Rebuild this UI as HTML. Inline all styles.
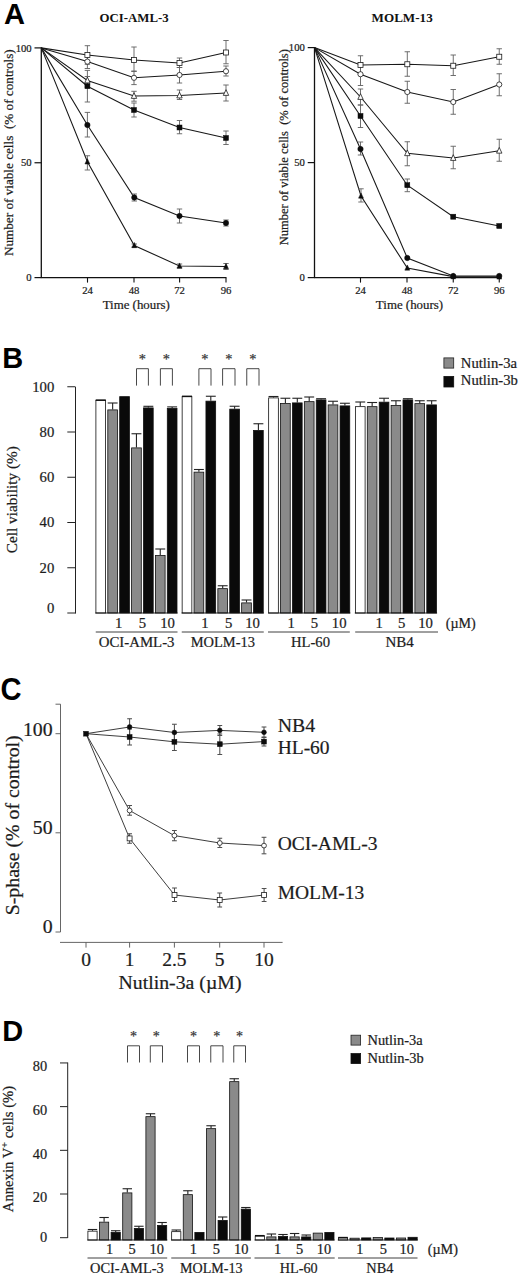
<!DOCTYPE html>
<html><head><meta charset="utf-8"><title>Figure</title>
<style>html,body{margin:0;padding:0;background:#fff;}svg{display:block;}</style>
</head><body>
<svg width="520" height="1277" viewBox="0 0 520 1277">
<rect x="0" y="0" width="520" height="1277" fill="#ffffff"/>
<text transform="translate(4.00 23.80) scale(0.96 1)" x="0" y="0" font-size="30.3" font-family="'Liberation Sans', sans-serif" font-weight="bold" fill="#000">A</text>
<text transform="translate(2.30 367.60) scale(0.96 1)" x="0" y="0" font-size="30.2" font-family="'Liberation Sans', sans-serif" font-weight="bold" fill="#000">B</text>
<text transform="translate(0.60 700.30) scale(0.93 1)" x="0" y="0" font-size="31.3" font-family="'Liberation Sans', sans-serif" font-weight="bold" fill="#000">C</text>
<text transform="translate(2.30 1041.10) scale(0.96 1)" x="0" y="0" font-size="30.2" font-family="'Liberation Sans', sans-serif" font-weight="bold" fill="#000">D</text>
<line x1="41.30" y1="47.40" x2="41.30" y2="277.60" stroke="#111" stroke-width="1.3" />
<line x1="40.70" y1="277.60" x2="226.40" y2="277.60" stroke="#111" stroke-width="1.3" />
<line x1="34.50" y1="47.90" x2="41.30" y2="47.90" stroke="#111" stroke-width="1.2" />
<text x="31.70" y="51.50" font-size="10.7" text-anchor="end" font-family="'Liberation Serif', serif" font-weight="normal" fill="#1c1c1c" stroke="#1c1c1c" stroke-width="0.22">100</text>
<line x1="34.50" y1="162.75" x2="41.30" y2="162.75" stroke="#111" stroke-width="1.2" />
<text x="31.70" y="166.35" font-size="10.7" text-anchor="end" font-family="'Liberation Serif', serif" font-weight="normal" fill="#1c1c1c" stroke="#1c1c1c" stroke-width="0.22">50</text>
<line x1="34.50" y1="277.60" x2="41.30" y2="277.60" stroke="#111" stroke-width="1.2" />
<text x="31.70" y="281.20" font-size="10.7" text-anchor="end" font-family="'Liberation Serif', serif" font-weight="normal" fill="#1c1c1c" stroke="#1c1c1c" stroke-width="0.22">0</text>
<line x1="87.50" y1="277.60" x2="87.50" y2="282.60" stroke="#111" stroke-width="1.1" />
<text x="87.50" y="293.50" font-size="10.7" text-anchor="middle" font-family="'Liberation Serif', serif" font-weight="normal" fill="#1c1c1c" stroke="#1c1c1c" stroke-width="0.22">24</text>
<line x1="134.00" y1="277.60" x2="134.00" y2="282.60" stroke="#111" stroke-width="1.1" />
<text x="134.00" y="293.50" font-size="10.7" text-anchor="middle" font-family="'Liberation Serif', serif" font-weight="normal" fill="#1c1c1c" stroke="#1c1c1c" stroke-width="0.22">48</text>
<line x1="179.60" y1="277.60" x2="179.60" y2="282.60" stroke="#111" stroke-width="1.1" />
<text x="179.60" y="293.50" font-size="10.7" text-anchor="middle" font-family="'Liberation Serif', serif" font-weight="normal" fill="#1c1c1c" stroke="#1c1c1c" stroke-width="0.22">72</text>
<line x1="226.00" y1="277.60" x2="226.00" y2="282.60" stroke="#111" stroke-width="1.1" />
<text x="226.00" y="293.50" font-size="10.7" text-anchor="middle" font-family="'Liberation Serif', serif" font-weight="normal" fill="#1c1c1c" stroke="#1c1c1c" stroke-width="0.22">96</text>
<polyline points="41.30,47.90 87.40,55.00 134.00,60.00 179.50,63.00 226.00,52.50" fill="none" stroke="#181818" stroke-width="1.08"/>
<polyline points="41.30,47.90 87.40,61.60 134.00,77.80 179.50,75.00 226.00,71.25" fill="none" stroke="#181818" stroke-width="1.08"/>
<polyline points="41.30,47.90 87.40,80.50 134.00,96.00 179.50,95.50 226.00,93.00" fill="none" stroke="#181818" stroke-width="1.08"/>
<polyline points="41.30,47.90 87.40,86.20 134.00,110.00 179.50,127.50 226.00,138.00" fill="none" stroke="#181818" stroke-width="1.08"/>
<polyline points="41.30,47.90 87.40,125.00 134.30,197.50 179.50,216.00 226.00,223.00" fill="none" stroke="#181818" stroke-width="1.08"/>
<polyline points="41.30,47.90 87.40,161.80 134.30,245.50 179.50,266.00 226.00,266.50" fill="none" stroke="#181818" stroke-width="1.08"/>
<line x1="87.40" y1="45.70" x2="87.40" y2="64.30" stroke="#626262" stroke-width="0.92" />
<line x1="84.70" y1="45.70" x2="90.10" y2="45.70" stroke="#626262" stroke-width="0.92" />
<line x1="84.70" y1="64.30" x2="90.10" y2="64.30" stroke="#626262" stroke-width="0.92" />
<line x1="134.00" y1="47.00" x2="134.00" y2="71.50" stroke="#626262" stroke-width="0.92" />
<line x1="131.30" y1="47.00" x2="136.70" y2="47.00" stroke="#626262" stroke-width="0.92" />
<line x1="131.30" y1="71.50" x2="136.70" y2="71.50" stroke="#626262" stroke-width="0.92" />
<line x1="179.50" y1="58.00" x2="179.50" y2="67.50" stroke="#626262" stroke-width="0.92" />
<line x1="176.80" y1="58.00" x2="182.20" y2="58.00" stroke="#626262" stroke-width="0.92" />
<line x1="176.80" y1="67.50" x2="182.20" y2="67.50" stroke="#626262" stroke-width="0.92" />
<line x1="226.00" y1="40.50" x2="226.00" y2="63.75" stroke="#626262" stroke-width="0.92" />
<line x1="223.30" y1="40.50" x2="228.70" y2="40.50" stroke="#626262" stroke-width="0.92" />
<line x1="223.30" y1="63.75" x2="228.70" y2="63.75" stroke="#626262" stroke-width="0.92" />
<line x1="87.40" y1="54.70" x2="87.40" y2="68.50" stroke="#626262" stroke-width="0.92" />
<line x1="84.70" y1="54.70" x2="90.10" y2="54.70" stroke="#626262" stroke-width="0.92" />
<line x1="84.70" y1="68.50" x2="90.10" y2="68.50" stroke="#626262" stroke-width="0.92" />
<line x1="134.00" y1="71.00" x2="134.00" y2="84.60" stroke="#626262" stroke-width="0.92" />
<line x1="131.30" y1="71.00" x2="136.70" y2="71.00" stroke="#626262" stroke-width="0.92" />
<line x1="131.30" y1="84.60" x2="136.70" y2="84.60" stroke="#626262" stroke-width="0.92" />
<line x1="179.50" y1="67.50" x2="179.50" y2="83.00" stroke="#626262" stroke-width="0.92" />
<line x1="176.80" y1="67.50" x2="182.20" y2="67.50" stroke="#626262" stroke-width="0.92" />
<line x1="176.80" y1="83.00" x2="182.20" y2="83.00" stroke="#626262" stroke-width="0.92" />
<line x1="226.00" y1="66.00" x2="226.00" y2="76.00" stroke="#626262" stroke-width="0.92" />
<line x1="223.30" y1="66.00" x2="228.70" y2="66.00" stroke="#626262" stroke-width="0.92" />
<line x1="223.30" y1="76.00" x2="228.70" y2="76.00" stroke="#626262" stroke-width="0.92" />
<line x1="87.40" y1="76.50" x2="87.40" y2="84.50" stroke="#626262" stroke-width="0.92" />
<line x1="84.70" y1="76.50" x2="90.10" y2="76.50" stroke="#626262" stroke-width="0.92" />
<line x1="84.70" y1="84.50" x2="90.10" y2="84.50" stroke="#626262" stroke-width="0.92" />
<line x1="134.00" y1="91.30" x2="134.00" y2="101.20" stroke="#626262" stroke-width="0.92" />
<line x1="131.30" y1="91.30" x2="136.70" y2="91.30" stroke="#626262" stroke-width="0.92" />
<line x1="131.30" y1="101.20" x2="136.70" y2="101.20" stroke="#626262" stroke-width="0.92" />
<line x1="179.50" y1="90.00" x2="179.50" y2="99.50" stroke="#626262" stroke-width="0.92" />
<line x1="176.80" y1="90.00" x2="182.20" y2="90.00" stroke="#626262" stroke-width="0.92" />
<line x1="176.80" y1="99.50" x2="182.20" y2="99.50" stroke="#626262" stroke-width="0.92" />
<line x1="226.00" y1="85.00" x2="226.00" y2="101.00" stroke="#626262" stroke-width="0.92" />
<line x1="223.30" y1="85.00" x2="228.70" y2="85.00" stroke="#626262" stroke-width="0.92" />
<line x1="223.30" y1="101.00" x2="228.70" y2="101.00" stroke="#626262" stroke-width="0.92" />
<line x1="87.40" y1="70.40" x2="87.40" y2="102.00" stroke="#626262" stroke-width="0.92" />
<line x1="84.70" y1="70.40" x2="90.10" y2="70.40" stroke="#626262" stroke-width="0.92" />
<line x1="84.70" y1="102.00" x2="90.10" y2="102.00" stroke="#626262" stroke-width="0.92" />
<line x1="134.00" y1="103.00" x2="134.00" y2="117.00" stroke="#626262" stroke-width="0.92" />
<line x1="131.30" y1="103.00" x2="136.70" y2="103.00" stroke="#626262" stroke-width="0.92" />
<line x1="131.30" y1="117.00" x2="136.70" y2="117.00" stroke="#626262" stroke-width="0.92" />
<line x1="179.50" y1="120.50" x2="179.50" y2="133.75" stroke="#626262" stroke-width="0.92" />
<line x1="176.80" y1="120.50" x2="182.20" y2="120.50" stroke="#626262" stroke-width="0.92" />
<line x1="176.80" y1="133.75" x2="182.20" y2="133.75" stroke="#626262" stroke-width="0.92" />
<line x1="226.00" y1="131.00" x2="226.00" y2="144.50" stroke="#626262" stroke-width="0.92" />
<line x1="223.30" y1="131.00" x2="228.70" y2="131.00" stroke="#626262" stroke-width="0.92" />
<line x1="223.30" y1="144.50" x2="228.70" y2="144.50" stroke="#626262" stroke-width="0.92" />
<line x1="87.40" y1="112.40" x2="87.40" y2="137.00" stroke="#626262" stroke-width="0.92" />
<line x1="84.70" y1="112.40" x2="90.10" y2="112.40" stroke="#626262" stroke-width="0.92" />
<line x1="84.70" y1="137.00" x2="90.10" y2="137.00" stroke="#626262" stroke-width="0.92" />
<line x1="134.30" y1="194.00" x2="134.30" y2="201.00" stroke="#626262" stroke-width="0.92" />
<line x1="131.60" y1="194.00" x2="137.00" y2="194.00" stroke="#626262" stroke-width="0.92" />
<line x1="131.60" y1="201.00" x2="137.00" y2="201.00" stroke="#626262" stroke-width="0.92" />
<line x1="179.50" y1="209.00" x2="179.50" y2="223.00" stroke="#626262" stroke-width="0.92" />
<line x1="176.80" y1="209.00" x2="182.20" y2="209.00" stroke="#626262" stroke-width="0.92" />
<line x1="176.80" y1="223.00" x2="182.20" y2="223.00" stroke="#626262" stroke-width="0.92" />
<line x1="226.00" y1="220.00" x2="226.00" y2="226.00" stroke="#626262" stroke-width="0.92" />
<line x1="223.30" y1="220.00" x2="228.70" y2="220.00" stroke="#626262" stroke-width="0.92" />
<line x1="223.30" y1="226.00" x2="228.70" y2="226.00" stroke="#626262" stroke-width="0.92" />
<line x1="87.40" y1="155.75" x2="87.40" y2="170.00" stroke="#626262" stroke-width="0.92" />
<line x1="84.70" y1="155.75" x2="90.10" y2="155.75" stroke="#626262" stroke-width="0.92" />
<line x1="84.70" y1="170.00" x2="90.10" y2="170.00" stroke="#626262" stroke-width="0.92" />
<line x1="134.30" y1="244.00" x2="134.30" y2="247.00" stroke="#626262" stroke-width="0.92" />
<line x1="131.60" y1="244.00" x2="137.00" y2="244.00" stroke="#626262" stroke-width="0.92" />
<line x1="131.60" y1="247.00" x2="137.00" y2="247.00" stroke="#626262" stroke-width="0.92" />
<line x1="179.50" y1="264.00" x2="179.50" y2="268.00" stroke="#626262" stroke-width="0.92" />
<line x1="176.80" y1="264.00" x2="182.20" y2="264.00" stroke="#626262" stroke-width="0.92" />
<line x1="176.80" y1="268.00" x2="182.20" y2="268.00" stroke="#626262" stroke-width="0.92" />
<line x1="226.00" y1="263.50" x2="226.00" y2="269.50" stroke="#626262" stroke-width="0.92" />
<line x1="223.30" y1="263.50" x2="228.70" y2="263.50" stroke="#626262" stroke-width="0.92" />
<line x1="223.30" y1="269.50" x2="228.70" y2="269.50" stroke="#626262" stroke-width="0.92" />
<rect x="84.90" y="52.50" width="5.0" height="5.0" fill="#fff" stroke="#1c1c1c" stroke-width="0.8"/>
<rect x="131.50" y="57.50" width="5.0" height="5.0" fill="#fff" stroke="#1c1c1c" stroke-width="0.8"/>
<rect x="177.00" y="60.50" width="5.0" height="5.0" fill="#fff" stroke="#1c1c1c" stroke-width="0.8"/>
<rect x="223.50" y="50.00" width="5.0" height="5.0" fill="#fff" stroke="#1c1c1c" stroke-width="0.8"/>
<circle cx="87.40" cy="61.60" r="2.60" fill="#fff" stroke="#1c1c1c" stroke-width="0.8"/>
<circle cx="134.00" cy="77.80" r="2.60" fill="#fff" stroke="#1c1c1c" stroke-width="0.8"/>
<circle cx="179.50" cy="75.00" r="2.60" fill="#fff" stroke="#1c1c1c" stroke-width="0.8"/>
<circle cx="226.00" cy="71.25" r="2.60" fill="#fff" stroke="#1c1c1c" stroke-width="0.8"/>
<polygon points="87.40,77.20 84.70,82.90 90.10,82.90" fill="#fff" stroke="#1c1c1c" stroke-width="0.8"/>
<polygon points="134.00,92.70 131.30,98.40 136.70,98.40" fill="#fff" stroke="#1c1c1c" stroke-width="0.8"/>
<polygon points="179.50,92.20 176.80,97.90 182.20,97.90" fill="#fff" stroke="#1c1c1c" stroke-width="0.8"/>
<polygon points="226.00,89.70 223.30,95.40 228.70,95.40" fill="#fff" stroke="#1c1c1c" stroke-width="0.8"/>
<rect x="84.90" y="83.70" width="5.0" height="5.0" fill="#0c0c0c" stroke="#0c0c0c" stroke-width="0.5"/>
<rect x="131.50" y="107.50" width="5.0" height="5.0" fill="#0c0c0c" stroke="#0c0c0c" stroke-width="0.5"/>
<rect x="177.00" y="125.00" width="5.0" height="5.0" fill="#0c0c0c" stroke="#0c0c0c" stroke-width="0.5"/>
<rect x="223.50" y="135.50" width="5.0" height="5.0" fill="#0c0c0c" stroke="#0c0c0c" stroke-width="0.5"/>
<circle cx="87.40" cy="125.00" r="2.70" fill="#0c0c0c" stroke="#0c0c0c" stroke-width="0.5"/>
<circle cx="134.30" cy="197.50" r="2.70" fill="#0c0c0c" stroke="#0c0c0c" stroke-width="0.5"/>
<circle cx="179.50" cy="216.00" r="2.70" fill="#0c0c0c" stroke="#0c0c0c" stroke-width="0.5"/>
<circle cx="226.00" cy="223.00" r="2.70" fill="#0c0c0c" stroke="#0c0c0c" stroke-width="0.5"/>
<polygon points="87.40,158.75 84.95,163.95 89.85,163.95" fill="#0c0c0c" stroke="#0c0c0c" stroke-width="0.5"/>
<polygon points="134.30,242.45 131.85,247.65 136.75,247.65" fill="#0c0c0c" stroke="#0c0c0c" stroke-width="0.5"/>
<polygon points="179.50,262.95 177.05,268.15 181.95,268.15" fill="#0c0c0c" stroke="#0c0c0c" stroke-width="0.5"/>
<polygon points="226.00,263.45 223.55,268.65 228.45,268.65" fill="#0c0c0c" stroke="#0c0c0c" stroke-width="0.5"/>
<text x="99.50" y="21.50" font-size="12.9" text-anchor="start" font-family="'Liberation Serif', serif" font-weight="bold" fill="#111" textLength="69.20" lengthAdjust="spacingAndGlyphs">OCI-AML-3</text>
<text x="136.25" y="309.20" font-size="12.8" text-anchor="middle" font-family="'Liberation Serif', serif" font-weight="normal" fill="#1c1c1c" textLength="67.20" lengthAdjust="spacingAndGlyphs" stroke="#1c1c1c" stroke-width="0.22">Time (hours)</text>
<text x="12.80" y="152.70" font-size="12.9" text-anchor="middle" font-family="'Liberation Serif', serif" font-weight="normal" fill="#1c1c1c" textLength="206.80" lengthAdjust="spacingAndGlyphs" transform="rotate(-90 12.80 152.70)" stroke="#1c1c1c" stroke-width="0.22">Number of viable cells&#160; (% of controls)</text>
<line x1="314.50" y1="47.10" x2="314.50" y2="277.60" stroke="#111" stroke-width="1.3" />
<line x1="313.90" y1="277.60" x2="499.65" y2="277.60" stroke="#111" stroke-width="1.3" />
<line x1="307.70" y1="47.60" x2="314.50" y2="47.60" stroke="#111" stroke-width="1.2" />
<text x="304.90" y="51.20" font-size="10.7" text-anchor="end" font-family="'Liberation Serif', serif" font-weight="normal" fill="#1c1c1c" stroke="#1c1c1c" stroke-width="0.22">100</text>
<line x1="307.70" y1="162.60" x2="314.50" y2="162.60" stroke="#111" stroke-width="1.2" />
<text x="304.90" y="166.20" font-size="10.7" text-anchor="end" font-family="'Liberation Serif', serif" font-weight="normal" fill="#1c1c1c" stroke="#1c1c1c" stroke-width="0.22">50</text>
<line x1="307.70" y1="277.60" x2="314.50" y2="277.60" stroke="#111" stroke-width="1.2" />
<text x="304.90" y="281.20" font-size="10.7" text-anchor="end" font-family="'Liberation Serif', serif" font-weight="normal" fill="#1c1c1c" stroke="#1c1c1c" stroke-width="0.22">0</text>
<line x1="360.50" y1="277.60" x2="360.50" y2="282.60" stroke="#111" stroke-width="1.1" />
<text x="360.50" y="293.50" font-size="10.7" text-anchor="middle" font-family="'Liberation Serif', serif" font-weight="normal" fill="#1c1c1c" stroke="#1c1c1c" stroke-width="0.22">24</text>
<line x1="407.00" y1="277.60" x2="407.00" y2="282.60" stroke="#111" stroke-width="1.1" />
<text x="407.00" y="293.50" font-size="10.7" text-anchor="middle" font-family="'Liberation Serif', serif" font-weight="normal" fill="#1c1c1c" stroke="#1c1c1c" stroke-width="0.22">48</text>
<line x1="453.25" y1="277.60" x2="453.25" y2="282.60" stroke="#111" stroke-width="1.1" />
<text x="453.25" y="293.50" font-size="10.7" text-anchor="middle" font-family="'Liberation Serif', serif" font-weight="normal" fill="#1c1c1c" stroke="#1c1c1c" stroke-width="0.22">72</text>
<line x1="499.25" y1="277.60" x2="499.25" y2="282.60" stroke="#111" stroke-width="1.1" />
<text x="499.25" y="293.50" font-size="10.7" text-anchor="middle" font-family="'Liberation Serif', serif" font-weight="normal" fill="#1c1c1c" stroke="#1c1c1c" stroke-width="0.22">96</text>
<polyline points="314.50,47.60 360.50,65.00 407.30,64.25 453.25,65.75 499.25,56.75" fill="none" stroke="#181818" stroke-width="1.08"/>
<polyline points="314.50,47.60 360.50,74.25 407.30,92.00 453.25,102.00 499.25,84.50" fill="none" stroke="#181818" stroke-width="1.08"/>
<polyline points="314.50,47.60 360.50,97.00 407.30,153.25 453.25,158.00 499.25,150.75" fill="none" stroke="#181818" stroke-width="1.08"/>
<polyline points="314.50,47.60 360.50,116.00 407.30,185.20 453.25,216.70 499.25,226.00" fill="none" stroke="#181818" stroke-width="1.08"/>
<polyline points="314.50,47.60 360.50,149.00 407.30,258.00 453.25,276.00 499.25,276.00" fill="none" stroke="#181818" stroke-width="1.08"/>
<polyline points="314.50,47.60 361.00,196.00 407.30,268.00 453.25,276.60 499.25,276.90" fill="none" stroke="#181818" stroke-width="1.08"/>
<line x1="360.50" y1="55.75" x2="360.50" y2="74.25" stroke="#626262" stroke-width="0.92" />
<line x1="357.80" y1="55.75" x2="363.20" y2="55.75" stroke="#626262" stroke-width="0.92" />
<line x1="357.80" y1="74.25" x2="363.20" y2="74.25" stroke="#626262" stroke-width="0.92" />
<line x1="407.30" y1="51.75" x2="407.30" y2="76.25" stroke="#626262" stroke-width="0.92" />
<line x1="404.60" y1="51.75" x2="410.00" y2="51.75" stroke="#626262" stroke-width="0.92" />
<line x1="404.60" y1="76.25" x2="410.00" y2="76.25" stroke="#626262" stroke-width="0.92" />
<line x1="453.25" y1="55.00" x2="453.25" y2="75.50" stroke="#626262" stroke-width="0.92" />
<line x1="450.55" y1="55.00" x2="455.95" y2="55.00" stroke="#626262" stroke-width="0.92" />
<line x1="450.55" y1="75.50" x2="455.95" y2="75.50" stroke="#626262" stroke-width="0.92" />
<line x1="499.25" y1="48.75" x2="499.25" y2="64.25" stroke="#626262" stroke-width="0.92" />
<line x1="496.55" y1="48.75" x2="501.95" y2="48.75" stroke="#626262" stroke-width="0.92" />
<line x1="496.55" y1="64.25" x2="501.95" y2="64.25" stroke="#626262" stroke-width="0.92" />
<line x1="360.50" y1="63.00" x2="360.50" y2="85.50" stroke="#626262" stroke-width="0.92" />
<line x1="357.80" y1="63.00" x2="363.20" y2="63.00" stroke="#626262" stroke-width="0.92" />
<line x1="357.80" y1="85.50" x2="363.20" y2="85.50" stroke="#626262" stroke-width="0.92" />
<line x1="407.30" y1="81.25" x2="407.30" y2="103.25" stroke="#626262" stroke-width="0.92" />
<line x1="404.60" y1="81.25" x2="410.00" y2="81.25" stroke="#626262" stroke-width="0.92" />
<line x1="404.60" y1="103.25" x2="410.00" y2="103.25" stroke="#626262" stroke-width="0.92" />
<line x1="453.25" y1="89.50" x2="453.25" y2="114.25" stroke="#626262" stroke-width="0.92" />
<line x1="450.55" y1="89.50" x2="455.95" y2="89.50" stroke="#626262" stroke-width="0.92" />
<line x1="450.55" y1="114.25" x2="455.95" y2="114.25" stroke="#626262" stroke-width="0.92" />
<line x1="499.25" y1="73.75" x2="499.25" y2="95.75" stroke="#626262" stroke-width="0.92" />
<line x1="496.55" y1="73.75" x2="501.95" y2="73.75" stroke="#626262" stroke-width="0.92" />
<line x1="496.55" y1="95.75" x2="501.95" y2="95.75" stroke="#626262" stroke-width="0.92" />
<line x1="360.50" y1="89.00" x2="360.50" y2="105.00" stroke="#626262" stroke-width="0.92" />
<line x1="357.80" y1="89.00" x2="363.20" y2="89.00" stroke="#626262" stroke-width="0.92" />
<line x1="357.80" y1="105.00" x2="363.20" y2="105.00" stroke="#626262" stroke-width="0.92" />
<line x1="407.30" y1="141.75" x2="407.30" y2="165.75" stroke="#626262" stroke-width="0.92" />
<line x1="404.60" y1="141.75" x2="410.00" y2="141.75" stroke="#626262" stroke-width="0.92" />
<line x1="404.60" y1="165.75" x2="410.00" y2="165.75" stroke="#626262" stroke-width="0.92" />
<line x1="453.25" y1="146.25" x2="453.25" y2="168.75" stroke="#626262" stroke-width="0.92" />
<line x1="450.55" y1="146.25" x2="455.95" y2="146.25" stroke="#626262" stroke-width="0.92" />
<line x1="450.55" y1="168.75" x2="455.95" y2="168.75" stroke="#626262" stroke-width="0.92" />
<line x1="499.25" y1="139.25" x2="499.25" y2="161.25" stroke="#626262" stroke-width="0.92" />
<line x1="496.55" y1="139.25" x2="501.95" y2="139.25" stroke="#626262" stroke-width="0.92" />
<line x1="496.55" y1="161.25" x2="501.95" y2="161.25" stroke="#626262" stroke-width="0.92" />
<line x1="360.50" y1="105.00" x2="360.50" y2="127.50" stroke="#626262" stroke-width="0.92" />
<line x1="357.80" y1="105.00" x2="363.20" y2="105.00" stroke="#626262" stroke-width="0.92" />
<line x1="357.80" y1="127.50" x2="363.20" y2="127.50" stroke="#626262" stroke-width="0.92" />
<line x1="407.30" y1="179.00" x2="407.30" y2="191.70" stroke="#626262" stroke-width="0.92" />
<line x1="404.60" y1="179.00" x2="410.00" y2="179.00" stroke="#626262" stroke-width="0.92" />
<line x1="404.60" y1="191.70" x2="410.00" y2="191.70" stroke="#626262" stroke-width="0.92" />
<line x1="360.50" y1="142.00" x2="360.50" y2="155.00" stroke="#626262" stroke-width="0.92" />
<line x1="357.80" y1="142.00" x2="363.20" y2="142.00" stroke="#626262" stroke-width="0.92" />
<line x1="357.80" y1="155.00" x2="363.20" y2="155.00" stroke="#626262" stroke-width="0.92" />
<line x1="361.00" y1="188.80" x2="361.00" y2="202.00" stroke="#626262" stroke-width="0.92" />
<line x1="358.30" y1="188.80" x2="363.70" y2="188.80" stroke="#626262" stroke-width="0.92" />
<line x1="358.30" y1="202.00" x2="363.70" y2="202.00" stroke="#626262" stroke-width="0.92" />
<rect x="358.00" y="62.50" width="5.0" height="5.0" fill="#fff" stroke="#1c1c1c" stroke-width="0.8"/>
<rect x="404.80" y="61.75" width="5.0" height="5.0" fill="#fff" stroke="#1c1c1c" stroke-width="0.8"/>
<rect x="450.75" y="63.25" width="5.0" height="5.0" fill="#fff" stroke="#1c1c1c" stroke-width="0.8"/>
<rect x="496.75" y="54.25" width="5.0" height="5.0" fill="#fff" stroke="#1c1c1c" stroke-width="0.8"/>
<circle cx="360.50" cy="74.25" r="2.60" fill="#fff" stroke="#1c1c1c" stroke-width="0.8"/>
<circle cx="407.30" cy="92.00" r="2.60" fill="#fff" stroke="#1c1c1c" stroke-width="0.8"/>
<circle cx="453.25" cy="102.00" r="2.60" fill="#fff" stroke="#1c1c1c" stroke-width="0.8"/>
<circle cx="499.25" cy="84.50" r="2.60" fill="#fff" stroke="#1c1c1c" stroke-width="0.8"/>
<polygon points="360.50,93.70 357.80,99.40 363.20,99.40" fill="#fff" stroke="#1c1c1c" stroke-width="0.8"/>
<polygon points="407.30,149.95 404.60,155.65 410.00,155.65" fill="#fff" stroke="#1c1c1c" stroke-width="0.8"/>
<polygon points="453.25,154.70 450.55,160.40 455.95,160.40" fill="#fff" stroke="#1c1c1c" stroke-width="0.8"/>
<polygon points="499.25,147.45 496.55,153.15 501.95,153.15" fill="#fff" stroke="#1c1c1c" stroke-width="0.8"/>
<rect x="358.00" y="113.50" width="5.0" height="5.0" fill="#0c0c0c" stroke="#0c0c0c" stroke-width="0.5"/>
<rect x="404.80" y="182.70" width="5.0" height="5.0" fill="#0c0c0c" stroke="#0c0c0c" stroke-width="0.5"/>
<rect x="450.75" y="214.20" width="5.0" height="5.0" fill="#0c0c0c" stroke="#0c0c0c" stroke-width="0.5"/>
<rect x="496.75" y="223.50" width="5.0" height="5.0" fill="#0c0c0c" stroke="#0c0c0c" stroke-width="0.5"/>
<circle cx="360.50" cy="149.00" r="2.70" fill="#0c0c0c" stroke="#0c0c0c" stroke-width="0.5"/>
<circle cx="407.30" cy="258.00" r="2.70" fill="#0c0c0c" stroke="#0c0c0c" stroke-width="0.5"/>
<circle cx="453.25" cy="276.00" r="2.70" fill="#0c0c0c" stroke="#0c0c0c" stroke-width="0.5"/>
<circle cx="499.25" cy="276.00" r="2.70" fill="#0c0c0c" stroke="#0c0c0c" stroke-width="0.5"/>
<polygon points="361.00,192.95 358.55,198.15 363.45,198.15" fill="#0c0c0c" stroke="#0c0c0c" stroke-width="0.5"/>
<polygon points="407.30,264.95 404.85,270.15 409.75,270.15" fill="#0c0c0c" stroke="#0c0c0c" stroke-width="0.5"/>
<polygon points="453.25,273.55 450.80,278.75 455.70,278.75" fill="#0c0c0c" stroke="#0c0c0c" stroke-width="0.5"/>
<polygon points="499.25,273.85 496.80,279.05 501.70,279.05" fill="#0c0c0c" stroke="#0c0c0c" stroke-width="0.5"/>
<text x="371.60" y="21.50" font-size="12.9" text-anchor="start" font-family="'Liberation Serif', serif" font-weight="bold" fill="#111" textLength="61.10" lengthAdjust="spacingAndGlyphs">MOLM-13</text>
<text x="409.48" y="309.20" font-size="12.8" text-anchor="middle" font-family="'Liberation Serif', serif" font-weight="normal" fill="#1c1c1c" textLength="67.20" lengthAdjust="spacingAndGlyphs" stroke="#1c1c1c" stroke-width="0.22">Time (hours)</text>
<text x="287.60" y="147.20" font-size="12.4" text-anchor="middle" font-family="'Liberation Serif', serif" font-weight="normal" fill="#1c1c1c" textLength="196.20" lengthAdjust="spacingAndGlyphs" transform="rotate(-90 287.60 147.20)" stroke="#1c1c1c" stroke-width="0.22">Number of viable cells&#160; (% of controls)</text>
<line x1="75.50" y1="387.00" x2="75.50" y2="613.50" stroke="#222" stroke-width="1.0" />
<line x1="67.30" y1="386.75" x2="75.50" y2="386.75" stroke="#222" stroke-width="1.0" />
<text x="54.30" y="391.55" font-size="14.7" text-anchor="end" font-family="'Liberation Serif', serif" font-weight="normal" fill="#1c1c1c" stroke="#1c1c1c" stroke-width="0.22">100</text>
<line x1="67.30" y1="432.00" x2="75.50" y2="432.00" stroke="#222" stroke-width="1.0" />
<text x="54.30" y="436.80" font-size="14.7" text-anchor="end" font-family="'Liberation Serif', serif" font-weight="normal" fill="#1c1c1c" stroke="#1c1c1c" stroke-width="0.22">80</text>
<line x1="67.30" y1="477.25" x2="75.50" y2="477.25" stroke="#222" stroke-width="1.0" />
<text x="54.30" y="482.05" font-size="14.7" text-anchor="end" font-family="'Liberation Serif', serif" font-weight="normal" fill="#1c1c1c" stroke="#1c1c1c" stroke-width="0.22">60</text>
<line x1="67.30" y1="522.50" x2="75.50" y2="522.50" stroke="#222" stroke-width="1.0" />
<text x="54.30" y="527.30" font-size="14.7" text-anchor="end" font-family="'Liberation Serif', serif" font-weight="normal" fill="#1c1c1c" stroke="#1c1c1c" stroke-width="0.22">40</text>
<line x1="67.30" y1="567.75" x2="75.50" y2="567.75" stroke="#222" stroke-width="1.0" />
<text x="54.30" y="572.55" font-size="14.7" text-anchor="end" font-family="'Liberation Serif', serif" font-weight="normal" fill="#1c1c1c" stroke="#1c1c1c" stroke-width="0.22">20</text>
<line x1="67.30" y1="613.00" x2="75.50" y2="613.00" stroke="#222" stroke-width="1.0" />
<text x="54.30" y="613.00" font-size="14.7" text-anchor="end" font-family="'Liberation Serif', serif" font-weight="normal" fill="#1c1c1c" stroke="#1c1c1c" stroke-width="0.22">0</text>
<text x="17.20" y="499.70" font-size="14.4" text-anchor="middle" font-family="'Liberation Serif', serif" font-weight="normal" fill="#1c1c1c" textLength="107.00" lengthAdjust="spacingAndGlyphs" transform="rotate(-90 17.20 499.70)" stroke="#1c1c1c" stroke-width="0.22">Cell viability (%)</text>
<rect x="95.90" y="400.40" width="9.70" height="212.60" fill="#fff" stroke="#111" stroke-width="0.8"/>
<line x1="95.70" y1="400.10" x2="105.80" y2="400.10" stroke="#111" stroke-width="1.5" />
<line x1="112.65" y1="403.00" x2="112.65" y2="409.50" stroke="#222" stroke-width="1.1" />
<line x1="107.70" y1="403.00" x2="117.60" y2="403.00" stroke="#222" stroke-width="1.1" />
<rect x="107.80" y="409.90" width="9.70" height="203.10" fill="#8a8a8a" stroke="#111" stroke-width="0.8"/>
<rect x="119.70" y="396.65" width="9.70" height="216.35" fill="#0a0a0a" stroke="#111" stroke-width="0.8"/>
<line x1="136.45" y1="433.75" x2="136.45" y2="447.50" stroke="#222" stroke-width="1.1" />
<line x1="131.50" y1="433.75" x2="141.40" y2="433.75" stroke="#222" stroke-width="1.1" />
<rect x="131.60" y="447.90" width="9.70" height="165.10" fill="#8a8a8a" stroke="#111" stroke-width="0.8"/>
<line x1="148.35" y1="406.30" x2="148.35" y2="407.50" stroke="#222" stroke-width="1.1" />
<line x1="143.40" y1="406.30" x2="153.30" y2="406.30" stroke="#222" stroke-width="1.1" />
<rect x="143.50" y="407.90" width="9.70" height="205.10" fill="#0a0a0a" stroke="#111" stroke-width="0.8"/>
<line x1="160.25" y1="549.00" x2="160.25" y2="555.00" stroke="#222" stroke-width="1.1" />
<line x1="155.30" y1="549.00" x2="165.20" y2="549.00" stroke="#222" stroke-width="1.1" />
<rect x="155.40" y="555.40" width="9.70" height="57.60" fill="#8a8a8a" stroke="#111" stroke-width="0.8"/>
<line x1="172.15" y1="406.90" x2="172.15" y2="408.00" stroke="#222" stroke-width="1.1" />
<line x1="167.20" y1="406.90" x2="177.10" y2="406.90" stroke="#222" stroke-width="1.1" />
<rect x="167.30" y="408.40" width="9.70" height="204.60" fill="#0a0a0a" stroke="#111" stroke-width="0.8"/>
<line x1="95.30" y1="613.00" x2="177.60" y2="613.00" stroke="#111" stroke-width="0.9" />
<text x="118.75" y="628.00" font-size="14.7" text-anchor="middle" font-family="'Liberation Serif', serif" font-weight="normal" fill="#1c1c1c" stroke="#1c1c1c" stroke-width="0.22">1</text>
<text x="142.50" y="628.00" font-size="14.7" text-anchor="middle" font-family="'Liberation Serif', serif" font-weight="normal" fill="#1c1c1c" stroke="#1c1c1c" stroke-width="0.22">5</text>
<text x="167.50" y="628.00" font-size="14.7" text-anchor="middle" font-family="'Liberation Serif', serif" font-weight="normal" fill="#1c1c1c" stroke="#1c1c1c" stroke-width="0.22">10</text>
<line x1="95.75" y1="632.00" x2="177.50" y2="632.00" stroke="#2a2a2a" stroke-width="0.9" />
<text x="136.62" y="647.00" font-size="14.7" text-anchor="middle" font-family="'Liberation Serif', serif" font-weight="normal" fill="#1c1c1c" textLength="75.75" lengthAdjust="spacingAndGlyphs" stroke="#1c1c1c" stroke-width="0.22">OCI-AML-3</text>
<polyline points="136.50,385.60 136.50,368.70 148.40,368.70 148.40,385.60" fill="none" stroke="#333" stroke-width="0.9"/>
<text x="142.45" y="364.30" font-size="14.405999999999999" text-anchor="middle" font-family="'Liberation Serif', serif" font-weight="normal" fill="#333" stroke="#333" stroke-width="0.22">*</text>
<polyline points="160.40,385.60 160.40,368.70 172.40,368.70 172.40,385.60" fill="none" stroke="#333" stroke-width="0.9"/>
<text x="166.40" y="364.30" font-size="14.405999999999999" text-anchor="middle" font-family="'Liberation Serif', serif" font-weight="normal" fill="#333" stroke="#333" stroke-width="0.22">*</text>
<rect x="182.15" y="396.65" width="9.70" height="216.35" fill="#fff" stroke="#111" stroke-width="0.8"/>
<line x1="181.95" y1="396.35" x2="192.05" y2="396.35" stroke="#111" stroke-width="1.5" />
<line x1="198.90" y1="469.50" x2="198.90" y2="471.75" stroke="#222" stroke-width="1.1" />
<line x1="193.95" y1="469.50" x2="203.85" y2="469.50" stroke="#222" stroke-width="1.1" />
<rect x="194.05" y="472.15" width="9.70" height="140.85" fill="#8a8a8a" stroke="#111" stroke-width="0.8"/>
<line x1="210.80" y1="396.25" x2="210.80" y2="400.75" stroke="#222" stroke-width="1.1" />
<line x1="205.85" y1="396.25" x2="215.75" y2="396.25" stroke="#222" stroke-width="1.1" />
<rect x="205.95" y="401.15" width="9.70" height="211.85" fill="#0a0a0a" stroke="#111" stroke-width="0.8"/>
<line x1="222.70" y1="585.75" x2="222.70" y2="588.25" stroke="#222" stroke-width="1.1" />
<line x1="217.75" y1="585.75" x2="227.65" y2="585.75" stroke="#222" stroke-width="1.1" />
<rect x="217.85" y="588.65" width="9.70" height="24.35" fill="#8a8a8a" stroke="#111" stroke-width="0.8"/>
<line x1="234.60" y1="406.25" x2="234.60" y2="408.75" stroke="#222" stroke-width="1.1" />
<line x1="229.65" y1="406.25" x2="239.55" y2="406.25" stroke="#222" stroke-width="1.1" />
<rect x="229.75" y="409.15" width="9.70" height="203.85" fill="#0a0a0a" stroke="#111" stroke-width="0.8"/>
<line x1="246.50" y1="600.00" x2="246.50" y2="602.50" stroke="#222" stroke-width="1.1" />
<line x1="241.55" y1="600.00" x2="251.45" y2="600.00" stroke="#222" stroke-width="1.1" />
<rect x="241.65" y="602.90" width="9.70" height="10.10" fill="#8a8a8a" stroke="#111" stroke-width="0.8"/>
<line x1="258.40" y1="423.75" x2="258.40" y2="430.00" stroke="#222" stroke-width="1.1" />
<line x1="253.45" y1="423.75" x2="263.35" y2="423.75" stroke="#222" stroke-width="1.1" />
<rect x="253.55" y="430.40" width="9.70" height="182.60" fill="#0a0a0a" stroke="#111" stroke-width="0.8"/>
<line x1="181.55" y1="613.00" x2="263.85" y2="613.00" stroke="#111" stroke-width="0.9" />
<text x="205.00" y="628.00" font-size="14.7" text-anchor="middle" font-family="'Liberation Serif', serif" font-weight="normal" fill="#1c1c1c" stroke="#1c1c1c" stroke-width="0.22">1</text>
<text x="228.75" y="628.00" font-size="14.7" text-anchor="middle" font-family="'Liberation Serif', serif" font-weight="normal" fill="#1c1c1c" stroke="#1c1c1c" stroke-width="0.22">5</text>
<text x="252.50" y="628.00" font-size="14.7" text-anchor="middle" font-family="'Liberation Serif', serif" font-weight="normal" fill="#1c1c1c" stroke="#1c1c1c" stroke-width="0.22">10</text>
<line x1="181.75" y1="632.00" x2="263.75" y2="632.00" stroke="#2a2a2a" stroke-width="0.9" />
<text x="222.88" y="647.00" font-size="14.7" text-anchor="middle" font-family="'Liberation Serif', serif" font-weight="normal" fill="#1c1c1c" textLength="64.25" lengthAdjust="spacingAndGlyphs" stroke="#1c1c1c" stroke-width="0.22">MOLM-13</text>
<polyline points="198.90,385.60 198.90,368.70 211.00,368.70 211.00,385.60" fill="none" stroke="#333" stroke-width="0.9"/>
<text x="204.95" y="364.30" font-size="14.405999999999999" text-anchor="middle" font-family="'Liberation Serif', serif" font-weight="normal" fill="#333" stroke="#333" stroke-width="0.22">*</text>
<polyline points="222.60,385.60 222.60,368.70 235.00,368.70 235.00,385.60" fill="none" stroke="#333" stroke-width="0.9"/>
<text x="228.80" y="364.30" font-size="14.405999999999999" text-anchor="middle" font-family="'Liberation Serif', serif" font-weight="normal" fill="#333" stroke="#333" stroke-width="0.22">*</text>
<polyline points="246.75,385.60 246.75,368.70 259.00,368.70 259.00,385.60" fill="none" stroke="#333" stroke-width="0.9"/>
<text x="252.88" y="364.30" font-size="14.405999999999999" text-anchor="middle" font-family="'Liberation Serif', serif" font-weight="normal" fill="#333" stroke="#333" stroke-width="0.22">*</text>
<line x1="273.50" y1="396.50" x2="273.50" y2="397.50" stroke="#222" stroke-width="1.1" />
<line x1="268.55" y1="396.50" x2="278.45" y2="396.50" stroke="#222" stroke-width="1.1" />
<rect x="268.65" y="397.90" width="9.70" height="215.10" fill="#fff" stroke="#111" stroke-width="0.8"/>
<line x1="285.40" y1="398.25" x2="285.40" y2="403.00" stroke="#222" stroke-width="1.1" />
<line x1="280.45" y1="398.25" x2="290.35" y2="398.25" stroke="#222" stroke-width="1.1" />
<rect x="280.55" y="403.40" width="9.70" height="209.60" fill="#8a8a8a" stroke="#111" stroke-width="0.8"/>
<line x1="297.30" y1="398.25" x2="297.30" y2="402.50" stroke="#222" stroke-width="1.1" />
<line x1="292.35" y1="398.25" x2="302.25" y2="398.25" stroke="#222" stroke-width="1.1" />
<rect x="292.45" y="402.90" width="9.70" height="210.10" fill="#0a0a0a" stroke="#111" stroke-width="0.8"/>
<line x1="309.20" y1="397.00" x2="309.20" y2="401.25" stroke="#222" stroke-width="1.1" />
<line x1="304.25" y1="397.00" x2="314.15" y2="397.00" stroke="#222" stroke-width="1.1" />
<rect x="304.35" y="401.65" width="9.70" height="211.35" fill="#8a8a8a" stroke="#111" stroke-width="0.8"/>
<line x1="321.10" y1="398.70" x2="321.10" y2="399.50" stroke="#222" stroke-width="1.1" />
<line x1="316.15" y1="398.70" x2="326.05" y2="398.70" stroke="#222" stroke-width="1.1" />
<rect x="316.25" y="399.90" width="9.70" height="213.10" fill="#0a0a0a" stroke="#111" stroke-width="0.8"/>
<line x1="333.00" y1="401.25" x2="333.00" y2="404.50" stroke="#222" stroke-width="1.1" />
<line x1="328.05" y1="401.25" x2="337.95" y2="401.25" stroke="#222" stroke-width="1.1" />
<rect x="328.15" y="404.90" width="9.70" height="208.10" fill="#8a8a8a" stroke="#111" stroke-width="0.8"/>
<line x1="344.90" y1="403.25" x2="344.90" y2="405.50" stroke="#222" stroke-width="1.1" />
<line x1="339.95" y1="403.25" x2="349.85" y2="403.25" stroke="#222" stroke-width="1.1" />
<rect x="340.05" y="405.90" width="9.70" height="207.10" fill="#0a0a0a" stroke="#111" stroke-width="0.8"/>
<line x1="268.05" y1="613.00" x2="350.35" y2="613.00" stroke="#111" stroke-width="0.9" />
<text x="291.20" y="628.00" font-size="14.7" text-anchor="middle" font-family="'Liberation Serif', serif" font-weight="normal" fill="#1c1c1c" stroke="#1c1c1c" stroke-width="0.22">1</text>
<text x="314.40" y="628.00" font-size="14.7" text-anchor="middle" font-family="'Liberation Serif', serif" font-weight="normal" fill="#1c1c1c" stroke="#1c1c1c" stroke-width="0.22">5</text>
<text x="339.20" y="628.00" font-size="14.7" text-anchor="middle" font-family="'Liberation Serif', serif" font-weight="normal" fill="#1c1c1c" stroke="#1c1c1c" stroke-width="0.22">10</text>
<line x1="268.00" y1="632.00" x2="349.80" y2="632.00" stroke="#2a2a2a" stroke-width="0.9" />
<text x="310.50" y="647.00" font-size="14.7" text-anchor="middle" font-family="'Liberation Serif', serif" font-weight="normal" fill="#1c1c1c" textLength="39.00" lengthAdjust="spacingAndGlyphs" stroke="#1c1c1c" stroke-width="0.22">HL-60</text>
<line x1="360.25" y1="402.00" x2="360.25" y2="406.25" stroke="#222" stroke-width="1.1" />
<line x1="355.30" y1="402.00" x2="365.20" y2="402.00" stroke="#222" stroke-width="1.1" />
<rect x="355.40" y="406.65" width="9.70" height="206.35" fill="#fff" stroke="#111" stroke-width="0.8"/>
<line x1="372.15" y1="402.50" x2="372.15" y2="406.25" stroke="#222" stroke-width="1.1" />
<line x1="367.20" y1="402.50" x2="377.10" y2="402.50" stroke="#222" stroke-width="1.1" />
<rect x="367.30" y="406.65" width="9.70" height="206.35" fill="#8a8a8a" stroke="#111" stroke-width="0.8"/>
<line x1="384.05" y1="398.25" x2="384.05" y2="401.75" stroke="#222" stroke-width="1.1" />
<line x1="379.10" y1="398.25" x2="389.00" y2="398.25" stroke="#222" stroke-width="1.1" />
<rect x="379.20" y="402.15" width="9.70" height="210.85" fill="#0a0a0a" stroke="#111" stroke-width="0.8"/>
<line x1="395.95" y1="400.75" x2="395.95" y2="405.00" stroke="#222" stroke-width="1.1" />
<line x1="391.00" y1="400.75" x2="400.90" y2="400.75" stroke="#222" stroke-width="1.1" />
<rect x="391.10" y="405.40" width="9.70" height="207.60" fill="#8a8a8a" stroke="#111" stroke-width="0.8"/>
<line x1="407.85" y1="398.70" x2="407.85" y2="399.50" stroke="#222" stroke-width="1.1" />
<line x1="402.90" y1="398.70" x2="412.80" y2="398.70" stroke="#222" stroke-width="1.1" />
<rect x="403.00" y="399.90" width="9.70" height="213.10" fill="#0a0a0a" stroke="#111" stroke-width="0.8"/>
<line x1="419.75" y1="400.75" x2="419.75" y2="403.25" stroke="#222" stroke-width="1.1" />
<line x1="414.80" y1="400.75" x2="424.70" y2="400.75" stroke="#222" stroke-width="1.1" />
<rect x="414.90" y="403.65" width="9.70" height="209.35" fill="#8a8a8a" stroke="#111" stroke-width="0.8"/>
<line x1="431.65" y1="400.75" x2="431.65" y2="404.50" stroke="#222" stroke-width="1.1" />
<line x1="426.70" y1="400.75" x2="436.60" y2="400.75" stroke="#222" stroke-width="1.1" />
<rect x="426.80" y="404.90" width="9.70" height="208.10" fill="#0a0a0a" stroke="#111" stroke-width="0.8"/>
<line x1="354.80" y1="613.00" x2="437.10" y2="613.00" stroke="#111" stroke-width="0.9" />
<text x="379.20" y="628.00" font-size="14.7" text-anchor="middle" font-family="'Liberation Serif', serif" font-weight="normal" fill="#1c1c1c" stroke="#1c1c1c" stroke-width="0.22">1</text>
<text x="401.70" y="628.00" font-size="14.7" text-anchor="middle" font-family="'Liberation Serif', serif" font-weight="normal" fill="#1c1c1c" stroke="#1c1c1c" stroke-width="0.22">5</text>
<text x="425.60" y="628.00" font-size="14.7" text-anchor="middle" font-family="'Liberation Serif', serif" font-weight="normal" fill="#1c1c1c" stroke="#1c1c1c" stroke-width="0.22">10</text>
<line x1="355.20" y1="632.00" x2="438.00" y2="632.00" stroke="#2a2a2a" stroke-width="0.9" />
<text x="399.60" y="647.00" font-size="14.7" text-anchor="middle" font-family="'Liberation Serif', serif" font-weight="normal" fill="#1c1c1c" textLength="28.40" lengthAdjust="spacingAndGlyphs" stroke="#1c1c1c" stroke-width="0.22">NB4</text>
<text x="445.80" y="628.00" font-size="14.7" text-anchor="start" font-family="'Liberation Serif', serif" font-weight="normal" fill="#1c1c1c" textLength="30.00" lengthAdjust="spacingAndGlyphs" stroke="#1c1c1c" stroke-width="0.22">(&#181;M)</text>
<rect x="443.9" y="357.9" width="9.8" height="10.2" fill="#8a8a8a" stroke="#222" stroke-width="0.8"/>
<rect x="443.9" y="376.4" width="9.8" height="10.6" fill="#0a0a0a" stroke="#111" stroke-width="0.8"/>
<text x="460.80" y="367.70" font-size="14.7" text-anchor="start" font-family="'Liberation Serif', serif" font-weight="normal" fill="#1c1c1c" textLength="56.20" lengthAdjust="spacingAndGlyphs" stroke="#1c1c1c" stroke-width="0.22">Nutlin-3a</text>
<text x="460.80" y="385.00" font-size="14.7" text-anchor="start" font-family="'Liberation Serif', serif" font-weight="normal" fill="#1c1c1c" textLength="57.00" lengthAdjust="spacingAndGlyphs" stroke="#1c1c1c" stroke-width="0.22">Nutlin-3b</text>
<line x1="67.70" y1="1062.50" x2="67.70" y2="1238.00" stroke="#222" stroke-width="1.0" />
<line x1="60.00" y1="1062.94" x2="67.70" y2="1062.94" stroke="#222" stroke-width="1.0" />
<text x="47.20" y="1071.34" font-size="14.4" text-anchor="end" font-family="'Liberation Serif', serif" font-weight="normal" fill="#1c1c1c" stroke="#1c1c1c" stroke-width="0.22">80</text>
<line x1="60.00" y1="1106.63" x2="67.70" y2="1106.63" stroke="#222" stroke-width="1.0" />
<text x="47.20" y="1115.03" font-size="14.4" text-anchor="end" font-family="'Liberation Serif', serif" font-weight="normal" fill="#1c1c1c" stroke="#1c1c1c" stroke-width="0.22">60</text>
<line x1="60.00" y1="1150.32" x2="67.70" y2="1150.32" stroke="#222" stroke-width="1.0" />
<text x="47.20" y="1158.72" font-size="14.4" text-anchor="end" font-family="'Liberation Serif', serif" font-weight="normal" fill="#1c1c1c" stroke="#1c1c1c" stroke-width="0.22">40</text>
<line x1="60.00" y1="1194.01" x2="67.70" y2="1194.01" stroke="#222" stroke-width="1.0" />
<text x="47.20" y="1202.41" font-size="14.4" text-anchor="end" font-family="'Liberation Serif', serif" font-weight="normal" fill="#1c1c1c" stroke="#1c1c1c" stroke-width="0.22">20</text>
<line x1="60.00" y1="1237.70" x2="67.70" y2="1237.70" stroke="#222" stroke-width="1.0" />
<text x="47.20" y="1241.50" font-size="14.4" text-anchor="end" font-family="'Liberation Serif', serif" font-weight="normal" fill="#1c1c1c" stroke="#1c1c1c" stroke-width="0.22">0</text>
<text x="13.20" y="1149.00" font-size="14.6" text-anchor="middle" font-family="'Liberation Serif', serif" font-weight="normal" fill="#1c1c1c" textLength="126.30" lengthAdjust="spacingAndGlyphs" transform="rotate(-90 13.20 1149.00)" stroke="#1c1c1c" stroke-width="0.22">Annexin V<tspan font-size="10" dy="-5">+</tspan><tspan dy="5"> cells (%)</tspan></text>
<line x1="92.50" y1="1229.50" x2="92.50" y2="1230.75" stroke="#222" stroke-width="1.1" />
<line x1="87.80" y1="1229.50" x2="97.20" y2="1229.50" stroke="#222" stroke-width="1.1" />
<rect x="87.90" y="1231.15" width="9.20" height="8.85" fill="#fff" stroke="#111" stroke-width="0.8"/>
<line x1="104.10" y1="1217.50" x2="104.10" y2="1221.75" stroke="#222" stroke-width="1.1" />
<line x1="99.40" y1="1217.50" x2="108.80" y2="1217.50" stroke="#222" stroke-width="1.1" />
<rect x="99.50" y="1222.15" width="9.20" height="17.85" fill="#8a8a8a" stroke="#111" stroke-width="0.8"/>
<line x1="115.70" y1="1230.75" x2="115.70" y2="1232.00" stroke="#222" stroke-width="1.1" />
<line x1="111.00" y1="1230.75" x2="120.40" y2="1230.75" stroke="#222" stroke-width="1.1" />
<rect x="111.10" y="1232.40" width="9.20" height="7.60" fill="#0a0a0a" stroke="#111" stroke-width="0.8"/>
<line x1="127.30" y1="1188.75" x2="127.30" y2="1192.50" stroke="#222" stroke-width="1.1" />
<line x1="122.60" y1="1188.75" x2="132.00" y2="1188.75" stroke="#222" stroke-width="1.1" />
<rect x="122.70" y="1192.90" width="9.20" height="47.10" fill="#8a8a8a" stroke="#111" stroke-width="0.8"/>
<line x1="138.90" y1="1226.25" x2="138.90" y2="1228.00" stroke="#222" stroke-width="1.1" />
<line x1="134.20" y1="1226.25" x2="143.60" y2="1226.25" stroke="#222" stroke-width="1.1" />
<rect x="134.30" y="1228.40" width="9.20" height="11.60" fill="#0a0a0a" stroke="#111" stroke-width="0.8"/>
<line x1="150.50" y1="1113.75" x2="150.50" y2="1116.25" stroke="#222" stroke-width="1.1" />
<line x1="145.80" y1="1113.75" x2="155.20" y2="1113.75" stroke="#222" stroke-width="1.1" />
<rect x="145.90" y="1116.65" width="9.20" height="123.35" fill="#8a8a8a" stroke="#111" stroke-width="0.8"/>
<line x1="162.10" y1="1222.50" x2="162.10" y2="1225.00" stroke="#222" stroke-width="1.1" />
<line x1="157.40" y1="1222.50" x2="166.80" y2="1222.50" stroke="#222" stroke-width="1.1" />
<rect x="157.50" y="1225.40" width="9.20" height="14.60" fill="#0a0a0a" stroke="#111" stroke-width="0.8"/>
<line x1="87.30" y1="1240.00" x2="167.30" y2="1240.00" stroke="#111" stroke-width="0.9" />
<text x="109.60" y="1254.30" font-size="14.4" text-anchor="middle" font-family="'Liberation Serif', serif" font-weight="normal" fill="#1c1c1c" stroke="#1c1c1c" stroke-width="0.22">1</text>
<text x="132.20" y="1254.30" font-size="14.4" text-anchor="middle" font-family="'Liberation Serif', serif" font-weight="normal" fill="#1c1c1c" stroke="#1c1c1c" stroke-width="0.22">5</text>
<text x="156.75" y="1254.30" font-size="14.4" text-anchor="middle" font-family="'Liberation Serif', serif" font-weight="normal" fill="#1c1c1c" stroke="#1c1c1c" stroke-width="0.22">10</text>
<line x1="87.50" y1="1258.00" x2="167.20" y2="1258.00" stroke="#2a2a2a" stroke-width="0.9" />
<text x="126.88" y="1273.20" font-size="14.4" text-anchor="middle" font-family="'Liberation Serif', serif" font-weight="normal" fill="#1c1c1c" textLength="73.75" lengthAdjust="spacingAndGlyphs" stroke="#1c1c1c" stroke-width="0.22">OCI-AML-3</text>
<polyline points="127.50,1062.50 127.50,1045.80 139.50,1045.80 139.50,1062.50" fill="none" stroke="#333" stroke-width="0.9"/>
<text x="133.50" y="1041.30" font-size="14.112" text-anchor="middle" font-family="'Liberation Serif', serif" font-weight="normal" fill="#333" stroke="#333" stroke-width="0.22">*</text>
<polyline points="150.30,1062.50 150.30,1045.80 162.50,1045.80 162.50,1062.50" fill="none" stroke="#333" stroke-width="0.9"/>
<text x="156.40" y="1041.30" font-size="14.112" text-anchor="middle" font-family="'Liberation Serif', serif" font-weight="normal" fill="#333" stroke="#333" stroke-width="0.22">*</text>
<line x1="176.25" y1="1230.00" x2="176.25" y2="1231.25" stroke="#222" stroke-width="1.1" />
<line x1="171.55" y1="1230.00" x2="180.95" y2="1230.00" stroke="#222" stroke-width="1.1" />
<rect x="171.65" y="1231.65" width="9.20" height="8.35" fill="#fff" stroke="#111" stroke-width="0.8"/>
<line x1="187.85" y1="1190.75" x2="187.85" y2="1194.25" stroke="#222" stroke-width="1.1" />
<line x1="183.15" y1="1190.75" x2="192.55" y2="1190.75" stroke="#222" stroke-width="1.1" />
<rect x="183.25" y="1194.65" width="9.20" height="45.35" fill="#8a8a8a" stroke="#111" stroke-width="0.8"/>
<rect x="194.85" y="1232.40" width="9.20" height="7.60" fill="#0a0a0a" stroke="#111" stroke-width="0.8"/>
<line x1="211.05" y1="1125.75" x2="211.05" y2="1128.25" stroke="#222" stroke-width="1.1" />
<line x1="206.35" y1="1125.75" x2="215.75" y2="1125.75" stroke="#222" stroke-width="1.1" />
<rect x="206.45" y="1128.65" width="9.20" height="111.35" fill="#8a8a8a" stroke="#111" stroke-width="0.8"/>
<line x1="222.65" y1="1217.00" x2="222.65" y2="1220.00" stroke="#222" stroke-width="1.1" />
<line x1="217.95" y1="1217.00" x2="227.35" y2="1217.00" stroke="#222" stroke-width="1.1" />
<rect x="218.05" y="1220.40" width="9.20" height="19.60" fill="#0a0a0a" stroke="#111" stroke-width="0.8"/>
<line x1="234.25" y1="1078.75" x2="234.25" y2="1081.25" stroke="#222" stroke-width="1.1" />
<line x1="229.55" y1="1078.75" x2="238.95" y2="1078.75" stroke="#222" stroke-width="1.1" />
<rect x="229.65" y="1081.65" width="9.20" height="158.35" fill="#8a8a8a" stroke="#111" stroke-width="0.8"/>
<line x1="245.85" y1="1207.50" x2="245.85" y2="1208.75" stroke="#222" stroke-width="1.1" />
<line x1="241.15" y1="1207.50" x2="250.55" y2="1207.50" stroke="#222" stroke-width="1.1" />
<rect x="241.25" y="1209.15" width="9.20" height="30.85" fill="#0a0a0a" stroke="#111" stroke-width="0.8"/>
<line x1="171.05" y1="1240.00" x2="251.05" y2="1240.00" stroke="#111" stroke-width="0.9" />
<text x="193.40" y="1254.30" font-size="14.4" text-anchor="middle" font-family="'Liberation Serif', serif" font-weight="normal" fill="#1c1c1c" stroke="#1c1c1c" stroke-width="0.22">1</text>
<text x="216.30" y="1254.30" font-size="14.4" text-anchor="middle" font-family="'Liberation Serif', serif" font-weight="normal" fill="#1c1c1c" stroke="#1c1c1c" stroke-width="0.22">5</text>
<text x="241.25" y="1254.30" font-size="14.4" text-anchor="middle" font-family="'Liberation Serif', serif" font-weight="normal" fill="#1c1c1c" stroke="#1c1c1c" stroke-width="0.22">10</text>
<line x1="171.25" y1="1258.00" x2="250.90" y2="1258.00" stroke="#2a2a2a" stroke-width="0.9" />
<text x="211.25" y="1273.20" font-size="14.4" text-anchor="middle" font-family="'Liberation Serif', serif" font-weight="normal" fill="#1c1c1c" textLength="62.50" lengthAdjust="spacingAndGlyphs" stroke="#1c1c1c" stroke-width="0.22">MOLM-13</text>
<polyline points="187.50,1062.50 187.50,1045.80 199.50,1045.80 199.50,1062.50" fill="none" stroke="#333" stroke-width="0.9"/>
<text x="193.50" y="1041.30" font-size="14.112" text-anchor="middle" font-family="'Liberation Serif', serif" font-weight="normal" fill="#333" stroke="#333" stroke-width="0.22">*</text>
<polyline points="210.75,1062.50 210.75,1045.80 223.00,1045.80 223.00,1062.50" fill="none" stroke="#333" stroke-width="0.9"/>
<text x="216.88" y="1041.30" font-size="14.112" text-anchor="middle" font-family="'Liberation Serif', serif" font-weight="normal" fill="#333" stroke="#333" stroke-width="0.22">*</text>
<polyline points="233.75,1062.50 233.75,1045.80 245.50,1045.80 245.50,1062.50" fill="none" stroke="#333" stroke-width="0.9"/>
<text x="239.62" y="1041.30" font-size="14.112" text-anchor="middle" font-family="'Liberation Serif', serif" font-weight="normal" fill="#333" stroke="#333" stroke-width="0.22">*</text>
<rect x="255.20" y="1236.00" width="9.20" height="4.00" fill="#fff" stroke="#111" stroke-width="0.8"/>
<line x1="255.00" y1="1235.70" x2="264.60" y2="1235.70" stroke="#111" stroke-width="1.5" />
<line x1="271.40" y1="1234.00" x2="271.40" y2="1236.50" stroke="#222" stroke-width="1.1" />
<line x1="266.70" y1="1234.00" x2="276.10" y2="1234.00" stroke="#222" stroke-width="1.1" />
<rect x="266.80" y="1236.90" width="9.20" height="3.10" fill="#8a8a8a" stroke="#111" stroke-width="0.8"/>
<line x1="283.00" y1="1234.50" x2="283.00" y2="1236.00" stroke="#222" stroke-width="1.1" />
<line x1="278.30" y1="1234.50" x2="287.70" y2="1234.50" stroke="#222" stroke-width="1.1" />
<rect x="278.40" y="1236.40" width="9.20" height="3.60" fill="#0a0a0a" stroke="#111" stroke-width="0.8"/>
<line x1="294.60" y1="1233.50" x2="294.60" y2="1236.50" stroke="#222" stroke-width="1.1" />
<line x1="289.90" y1="1233.50" x2="299.30" y2="1233.50" stroke="#222" stroke-width="1.1" />
<rect x="290.00" y="1236.90" width="9.20" height="3.10" fill="#8a8a8a" stroke="#111" stroke-width="0.8"/>
<line x1="306.20" y1="1235.00" x2="306.20" y2="1236.50" stroke="#222" stroke-width="1.1" />
<line x1="301.50" y1="1235.00" x2="310.90" y2="1235.00" stroke="#222" stroke-width="1.1" />
<rect x="301.60" y="1236.90" width="9.20" height="3.10" fill="#0a0a0a" stroke="#111" stroke-width="0.8"/>
<rect x="313.20" y="1233.10" width="9.20" height="6.90" fill="#8a8a8a" stroke="#111" stroke-width="0.8"/>
<rect x="324.80" y="1232.40" width="9.20" height="7.60" fill="#0a0a0a" stroke="#111" stroke-width="0.8"/>
<line x1="254.60" y1="1240.00" x2="334.60" y2="1240.00" stroke="#111" stroke-width="0.9" />
<text x="277.50" y="1254.30" font-size="14.4" text-anchor="middle" font-family="'Liberation Serif', serif" font-weight="normal" fill="#1c1c1c" stroke="#1c1c1c" stroke-width="0.22">1</text>
<text x="299.60" y="1254.30" font-size="14.4" text-anchor="middle" font-family="'Liberation Serif', serif" font-weight="normal" fill="#1c1c1c" stroke="#1c1c1c" stroke-width="0.22">5</text>
<text x="324.00" y="1254.30" font-size="14.4" text-anchor="middle" font-family="'Liberation Serif', serif" font-weight="normal" fill="#1c1c1c" stroke="#1c1c1c" stroke-width="0.22">10</text>
<line x1="254.50" y1="1258.00" x2="334.70" y2="1258.00" stroke="#2a2a2a" stroke-width="0.9" />
<text x="298.75" y="1273.20" font-size="14.4" text-anchor="middle" font-family="'Liberation Serif', serif" font-weight="normal" fill="#1c1c1c" textLength="37.90" lengthAdjust="spacingAndGlyphs" stroke="#1c1c1c" stroke-width="0.22">HL-60</text>
<rect x="338.40" y="1237.90" width="9.20" height="2.10" fill="#fff" stroke="#111" stroke-width="0.8"/>
<line x1="338.20" y1="1237.60" x2="347.80" y2="1237.60" stroke="#111" stroke-width="1.5" />
<rect x="350.00" y="1238.20" width="9.20" height="1.80" fill="#8a8a8a" stroke="#111" stroke-width="0.8"/>
<rect x="361.60" y="1237.90" width="9.20" height="2.10" fill="#0a0a0a" stroke="#111" stroke-width="0.8"/>
<rect x="373.20" y="1237.60" width="9.20" height="2.40" fill="#8a8a8a" stroke="#111" stroke-width="0.8"/>
<rect x="384.80" y="1238.00" width="9.20" height="2.00" fill="#0a0a0a" stroke="#111" stroke-width="0.8"/>
<rect x="396.40" y="1238.00" width="9.20" height="2.00" fill="#8a8a8a" stroke="#111" stroke-width="0.8"/>
<rect x="408.00" y="1237.30" width="9.20" height="2.70" fill="#0a0a0a" stroke="#111" stroke-width="0.8"/>
<line x1="337.80" y1="1240.00" x2="417.80" y2="1240.00" stroke="#111" stroke-width="0.9" />
<text x="359.90" y="1254.30" font-size="14.4" text-anchor="middle" font-family="'Liberation Serif', serif" font-weight="normal" fill="#1c1c1c" stroke="#1c1c1c" stroke-width="0.22">1</text>
<text x="383.30" y="1254.30" font-size="14.4" text-anchor="middle" font-family="'Liberation Serif', serif" font-weight="normal" fill="#1c1c1c" stroke="#1c1c1c" stroke-width="0.22">5</text>
<text x="406.70" y="1254.30" font-size="14.4" text-anchor="middle" font-family="'Liberation Serif', serif" font-weight="normal" fill="#1c1c1c" stroke="#1c1c1c" stroke-width="0.22">10</text>
<line x1="338.00" y1="1258.00" x2="417.50" y2="1258.00" stroke="#2a2a2a" stroke-width="0.9" />
<text x="379.85" y="1273.20" font-size="14.4" text-anchor="middle" font-family="'Liberation Serif', serif" font-weight="normal" fill="#1c1c1c" textLength="27.10" lengthAdjust="spacingAndGlyphs" stroke="#1c1c1c" stroke-width="0.22">NB4</text>
<text x="427.70" y="1254.30" font-size="14.4" text-anchor="start" font-family="'Liberation Serif', serif" font-weight="normal" fill="#1c1c1c" textLength="30.30" lengthAdjust="spacingAndGlyphs" stroke="#1c1c1c" stroke-width="0.22">(&#181;M)</text>
<rect x="351.0" y="1035.2" width="9.6" height="9.9" fill="#8a8a8a" stroke="#222" stroke-width="0.8"/>
<rect x="351.0" y="1053.6" width="9.6" height="10.0" fill="#0a0a0a" stroke="#111" stroke-width="0.8"/>
<text x="367.50" y="1045.00" font-size="14.4" text-anchor="start" font-family="'Liberation Serif', serif" font-weight="normal" fill="#1c1c1c" textLength="55.20" lengthAdjust="spacingAndGlyphs" stroke="#1c1c1c" stroke-width="0.22">Nutlin-3a</text>
<text x="367.50" y="1062.80" font-size="14.4" text-anchor="start" font-family="'Liberation Serif', serif" font-weight="normal" fill="#1c1c1c" textLength="56.20" lengthAdjust="spacingAndGlyphs" stroke="#1c1c1c" stroke-width="0.22">Nutlin-3b</text>
<line x1="60.50" y1="704.20" x2="60.50" y2="932.00" stroke="#555" stroke-width="0.9" />
<line x1="55.50" y1="704.20" x2="60.50" y2="704.20" stroke="#555" stroke-width="0.9" />
<line x1="55.50" y1="733.70" x2="60.50" y2="733.70" stroke="#555" stroke-width="0.9" />
<line x1="55.50" y1="832.80" x2="60.50" y2="832.80" stroke="#555" stroke-width="0.9" />
<line x1="55.50" y1="932.00" x2="60.50" y2="932.00" stroke="#555" stroke-width="0.9" />
<line x1="60.00" y1="942.40" x2="282.60" y2="942.40" stroke="#555" stroke-width="0.9" />
<line x1="86.00" y1="942.40" x2="86.00" y2="947.60" stroke="#555" stroke-width="0.9" />
<line x1="129.60" y1="942.40" x2="129.60" y2="947.60" stroke="#555" stroke-width="0.9" />
<line x1="174.40" y1="942.40" x2="174.40" y2="947.60" stroke="#555" stroke-width="0.9" />
<line x1="219.70" y1="942.40" x2="219.70" y2="947.60" stroke="#555" stroke-width="0.9" />
<line x1="264.00" y1="942.40" x2="264.00" y2="947.60" stroke="#555" stroke-width="0.9" />
<text x="86.00" y="966.20" font-size="19.5" text-anchor="middle" font-family="'Liberation Serif', serif" font-weight="normal" fill="#1c1c1c" stroke="#1c1c1c" stroke-width="0.22">0</text>
<text x="129.60" y="966.20" font-size="19.5" text-anchor="middle" font-family="'Liberation Serif', serif" font-weight="normal" fill="#1c1c1c" stroke="#1c1c1c" stroke-width="0.22">1</text>
<text x="174.40" y="966.20" font-size="19.5" text-anchor="middle" font-family="'Liberation Serif', serif" font-weight="normal" fill="#1c1c1c" stroke="#1c1c1c" stroke-width="0.22">2.5</text>
<text x="219.70" y="966.20" font-size="19.5" text-anchor="middle" font-family="'Liberation Serif', serif" font-weight="normal" fill="#1c1c1c" stroke="#1c1c1c" stroke-width="0.22">5</text>
<text x="264.00" y="966.20" font-size="19.5" text-anchor="middle" font-family="'Liberation Serif', serif" font-weight="normal" fill="#1c1c1c" stroke="#1c1c1c" stroke-width="0.22">10</text>
<text x="52.60" y="735.60" font-size="19.8" text-anchor="end" font-family="'Liberation Serif', serif" font-weight="normal" fill="#1c1c1c" stroke="#1c1c1c" stroke-width="0.22">100</text>
<text x="52.60" y="834.30" font-size="19.8" text-anchor="end" font-family="'Liberation Serif', serif" font-weight="normal" fill="#1c1c1c" stroke="#1c1c1c" stroke-width="0.22">50</text>
<text x="52.60" y="932.60" font-size="19.8" text-anchor="end" font-family="'Liberation Serif', serif" font-weight="normal" fill="#1c1c1c" stroke="#1c1c1c" stroke-width="0.22">0</text>
<text x="18.80" y="825.30" font-size="19.5" text-anchor="middle" font-family="'Liberation Serif', serif" font-weight="normal" fill="#1c1c1c" textLength="180.00" lengthAdjust="spacingAndGlyphs" transform="rotate(-90 18.80 825.30)" stroke="#1c1c1c" stroke-width="0.22">S-phase (% of control)</text>
<text x="180.00" y="988.50" font-size="19.5" text-anchor="middle" font-family="'Liberation Serif', serif" font-weight="normal" fill="#1c1c1c" textLength="123.00" lengthAdjust="spacingAndGlyphs" stroke="#1c1c1c" stroke-width="0.22">Nutlin-3a (&#181;M)</text>
<polyline points="86.00,733.70 129.60,727.00 174.40,732.50 219.80,730.40 264.00,732.30" fill="none" stroke="#333" stroke-width="0.95"/>
<polyline points="86.00,733.70 129.60,737.00 174.40,741.80 219.80,744.20 264.00,741.60" fill="none" stroke="#333" stroke-width="0.95"/>
<polyline points="86.00,733.70 129.60,810.50 174.40,835.60 219.80,843.00 264.00,845.60" fill="none" stroke="#333" stroke-width="0.95"/>
<polyline points="86.00,733.70 129.60,838.40 174.50,895.00 219.70,900.00 264.10,895.00" fill="none" stroke="#333" stroke-width="0.95"/>
<line x1="129.60" y1="718.75" x2="129.60" y2="735.50" stroke="#505050" stroke-width="1.05" />
<line x1="127.20" y1="718.75" x2="132.00" y2="718.75" stroke="#505050" stroke-width="1.05" />
<line x1="127.20" y1="735.50" x2="132.00" y2="735.50" stroke="#505050" stroke-width="1.05" />
<line x1="174.40" y1="724.25" x2="174.40" y2="741.00" stroke="#505050" stroke-width="1.05" />
<line x1="172.00" y1="724.25" x2="176.80" y2="724.25" stroke="#505050" stroke-width="1.05" />
<line x1="172.00" y1="741.00" x2="176.80" y2="741.00" stroke="#505050" stroke-width="1.05" />
<line x1="219.80" y1="725.50" x2="219.80" y2="735.50" stroke="#505050" stroke-width="1.05" />
<line x1="217.40" y1="725.50" x2="222.20" y2="725.50" stroke="#505050" stroke-width="1.05" />
<line x1="217.40" y1="735.50" x2="222.20" y2="735.50" stroke="#505050" stroke-width="1.05" />
<line x1="264.00" y1="727.00" x2="264.00" y2="737.50" stroke="#505050" stroke-width="1.05" />
<line x1="261.60" y1="727.00" x2="266.40" y2="727.00" stroke="#505050" stroke-width="1.05" />
<line x1="261.60" y1="737.50" x2="266.40" y2="737.50" stroke="#505050" stroke-width="1.05" />
<line x1="129.60" y1="729.00" x2="129.60" y2="745.00" stroke="#505050" stroke-width="1.05" />
<line x1="127.20" y1="729.00" x2="132.00" y2="729.00" stroke="#505050" stroke-width="1.05" />
<line x1="127.20" y1="745.00" x2="132.00" y2="745.00" stroke="#505050" stroke-width="1.05" />
<line x1="174.40" y1="733.00" x2="174.40" y2="750.50" stroke="#505050" stroke-width="1.05" />
<line x1="172.00" y1="733.00" x2="176.80" y2="733.00" stroke="#505050" stroke-width="1.05" />
<line x1="172.00" y1="750.50" x2="176.80" y2="750.50" stroke="#505050" stroke-width="1.05" />
<line x1="219.80" y1="734.00" x2="219.80" y2="754.50" stroke="#505050" stroke-width="1.05" />
<line x1="217.40" y1="734.00" x2="222.20" y2="734.00" stroke="#505050" stroke-width="1.05" />
<line x1="217.40" y1="754.50" x2="222.20" y2="754.50" stroke="#505050" stroke-width="1.05" />
<line x1="264.00" y1="737.00" x2="264.00" y2="746.00" stroke="#505050" stroke-width="1.05" />
<line x1="261.60" y1="737.00" x2="266.40" y2="737.00" stroke="#505050" stroke-width="1.05" />
<line x1="261.60" y1="746.00" x2="266.40" y2="746.00" stroke="#505050" stroke-width="1.05" />
<line x1="129.60" y1="805.50" x2="129.60" y2="815.20" stroke="#505050" stroke-width="1.05" />
<line x1="127.20" y1="805.50" x2="132.00" y2="805.50" stroke="#505050" stroke-width="1.05" />
<line x1="127.20" y1="815.20" x2="132.00" y2="815.20" stroke="#505050" stroke-width="1.05" />
<line x1="174.40" y1="830.50" x2="174.40" y2="840.75" stroke="#505050" stroke-width="1.05" />
<line x1="172.00" y1="830.50" x2="176.80" y2="830.50" stroke="#505050" stroke-width="1.05" />
<line x1="172.00" y1="840.75" x2="176.80" y2="840.75" stroke="#505050" stroke-width="1.05" />
<line x1="219.80" y1="838.25" x2="219.80" y2="847.50" stroke="#505050" stroke-width="1.05" />
<line x1="217.40" y1="838.25" x2="222.20" y2="838.25" stroke="#505050" stroke-width="1.05" />
<line x1="217.40" y1="847.50" x2="222.20" y2="847.50" stroke="#505050" stroke-width="1.05" />
<line x1="264.00" y1="837.30" x2="264.00" y2="853.80" stroke="#505050" stroke-width="1.05" />
<line x1="261.60" y1="837.30" x2="266.40" y2="837.30" stroke="#505050" stroke-width="1.05" />
<line x1="261.60" y1="853.80" x2="266.40" y2="853.80" stroke="#505050" stroke-width="1.05" />
<line x1="129.60" y1="833.75" x2="129.60" y2="843.25" stroke="#505050" stroke-width="1.05" />
<line x1="127.20" y1="833.75" x2="132.00" y2="833.75" stroke="#505050" stroke-width="1.05" />
<line x1="127.20" y1="843.25" x2="132.00" y2="843.25" stroke="#505050" stroke-width="1.05" />
<line x1="174.50" y1="888.00" x2="174.50" y2="901.50" stroke="#505050" stroke-width="1.05" />
<line x1="172.10" y1="888.00" x2="176.90" y2="888.00" stroke="#505050" stroke-width="1.05" />
<line x1="172.10" y1="901.50" x2="176.90" y2="901.50" stroke="#505050" stroke-width="1.05" />
<line x1="219.70" y1="893.00" x2="219.70" y2="907.00" stroke="#505050" stroke-width="1.05" />
<line x1="217.30" y1="893.00" x2="222.10" y2="893.00" stroke="#505050" stroke-width="1.05" />
<line x1="217.30" y1="907.00" x2="222.10" y2="907.00" stroke="#505050" stroke-width="1.05" />
<line x1="264.10" y1="888.50" x2="264.10" y2="901.50" stroke="#505050" stroke-width="1.05" />
<line x1="261.70" y1="888.50" x2="266.50" y2="888.50" stroke="#505050" stroke-width="1.05" />
<line x1="261.70" y1="901.50" x2="266.50" y2="901.50" stroke="#505050" stroke-width="1.05" />
<circle cx="129.60" cy="727.00" r="2.40" fill="#0c0c0c" stroke="#0c0c0c" stroke-width="0.5"/>
<circle cx="174.40" cy="732.50" r="2.40" fill="#0c0c0c" stroke="#0c0c0c" stroke-width="0.5"/>
<circle cx="219.80" cy="730.40" r="2.40" fill="#0c0c0c" stroke="#0c0c0c" stroke-width="0.5"/>
<circle cx="264.00" cy="732.30" r="2.40" fill="#0c0c0c" stroke="#0c0c0c" stroke-width="0.5"/>
<rect x="127.15" y="734.55" width="4.9" height="4.9" fill="#0c0c0c" stroke="#0c0c0c" stroke-width="0.5"/>
<rect x="171.95" y="739.35" width="4.9" height="4.9" fill="#0c0c0c" stroke="#0c0c0c" stroke-width="0.5"/>
<rect x="217.35" y="741.75" width="4.9" height="4.9" fill="#0c0c0c" stroke="#0c0c0c" stroke-width="0.5"/>
<rect x="261.55" y="739.15" width="4.9" height="4.9" fill="#0c0c0c" stroke="#0c0c0c" stroke-width="0.5"/>
<circle cx="129.60" cy="810.50" r="2.40" fill="#fff" stroke="#1c1c1c" stroke-width="0.8"/>
<circle cx="174.40" cy="835.60" r="2.40" fill="#fff" stroke="#1c1c1c" stroke-width="0.8"/>
<circle cx="219.80" cy="843.00" r="2.40" fill="#fff" stroke="#1c1c1c" stroke-width="0.8"/>
<circle cx="264.00" cy="845.60" r="2.40" fill="#fff" stroke="#1c1c1c" stroke-width="0.8"/>
<rect x="127.15" y="835.95" width="4.9" height="4.9" fill="#fff" stroke="#1c1c1c" stroke-width="0.8"/>
<rect x="172.05" y="892.55" width="4.9" height="4.9" fill="#fff" stroke="#1c1c1c" stroke-width="0.8"/>
<rect x="217.25" y="897.55" width="4.9" height="4.9" fill="#fff" stroke="#1c1c1c" stroke-width="0.8"/>
<rect x="261.65" y="892.55" width="4.9" height="4.9" fill="#fff" stroke="#1c1c1c" stroke-width="0.8"/>
<rect x="83.60" y="731.30" width="4.8" height="4.8" fill="#0c0c0c" stroke="#0c0c0c" stroke-width="0.5"/>
<text x="277.70" y="732.30" font-size="19.5" text-anchor="start" font-family="'Liberation Serif', serif" font-weight="normal" fill="#1c1c1c" textLength="37.50" lengthAdjust="spacingAndGlyphs" stroke="#1c1c1c" stroke-width="0.22">NB4</text>
<text x="277.70" y="753.70" font-size="19.5" text-anchor="start" font-family="'Liberation Serif', serif" font-weight="normal" fill="#1c1c1c" textLength="51.90" lengthAdjust="spacingAndGlyphs" stroke="#1c1c1c" stroke-width="0.22">HL-60</text>
<text x="277.70" y="850.00" font-size="19.5" text-anchor="start" font-family="'Liberation Serif', serif" font-weight="normal" fill="#1c1c1c" textLength="99.80" lengthAdjust="spacingAndGlyphs" stroke="#1c1c1c" stroke-width="0.22">OCI-AML-3</text>
<text x="277.70" y="899.00" font-size="19.5" text-anchor="start" font-family="'Liberation Serif', serif" font-weight="normal" fill="#1c1c1c" textLength="86.60" lengthAdjust="spacingAndGlyphs" stroke="#1c1c1c" stroke-width="0.22">MOLM-13</text>
</svg>
</body></html>
